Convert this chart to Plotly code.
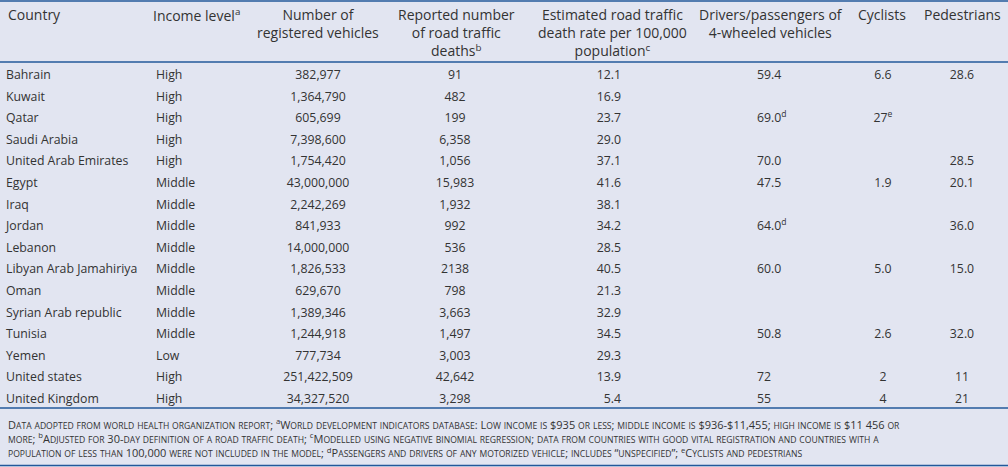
import re
import plotly.graph_objects as go

countries = ["Bahrain", "Kuwait", "Qatar", "Saudi Arabia", "United Arab Emirates", "Egypt", "Iraq",
             "Jordan", "Lebanon", "Libyan Arab Jamahiriya", "Oman", "Syrian Arab republic", "Tunisia",
             "Yemen", "United states", "United Kingdom"]
income = ["High", "High", "High", "High", "High", "Middle", "Middle", "Middle", "Middle", "Middle",
          "Middle", "Middle", "Middle", "Low", "High", "High"]
vehicles = ["382,977", "1,364,790", "605,699", "7,398,600", "1,754,420", "43,000,000", "2,242,269",
            "841,933", "14,000,000", "1,826,533", "629,670", "1,389,346", "1,244,918", "777,734",
            "251,422,509", "34,327,520"]
deaths = ["91", "482", "199", "6,358", "1,056", "15,983", "1,932", "992", "536", "2138", "798",
          "3,663", "1,497", "3,003", "42,642", "3,298"]
rate = ["12.1", "16.9", "23.7", "29.0", "37.1", "41.6", "38.1", "34.2", "28.5", "40.5", "21.3",
        "32.9", "34.5", "29.3", "13.9", "5.4"]
drivers = ["59.4", "", "69.0<sup>d</sup>", "", "70.0", "47.5", "", "64.0<sup>d</sup>", "", "60.0",
           "", "", "50.8", "", "72", "55"]
cyclists = ["6.6", "", "27<sup>e</sup>", "", "", "1.9", "", "", "", "5.0", "", "", "2.6", "", "2", "4"]
pedestrians = ["28.6", "", "", "", "28.5", "20.1", "", "36.0", "", "15.0", "", "", "32.0", "", "11", "21"]

headers = ["Country", "Income level<sup>a</sup>", "Number of<br>registered vehicles",
           "Reported number<br>of road traffic<br>deaths<sup>b</sup>",
           "Estimated road traffic<br>death rate per 100,000<br>population<sup>c</sup>",
           "Drivers/passengers of<br>4-wheeled vehicles", "Cyclists", "Pedestrians"]

footnote = ("Data adopted from world health organization report; <sup>a</sup>World development indicators database: "
            "Low income is $935 or less; middle income is $936-$11,455; high income is $11 456 or<br>"
            "more; <sup>b</sup>Adjusted for 30-day definition of a road traffic death; <sup>c</sup>Modelled using "
            "negative binomial regression; data from countries with good vital registration and countries with a<br>"
            "population of less than 100,000 were not included in the model; <sup>d</sup>Passengers and drivers of "
            "any motorized vehicle; includes \u201cunspecified\u201d; <sup>e</sup>Cyclists and pedestrians")

W, H = 1008, 467
BG = "#e2e5f1"
RULE = "#23589a"
TXT = "#333333"
FONT = "Open Sans"
body_size = 12.3
foot_size = 11
foot_small = 8.6


def small_caps(text, small):
    out = []
    in_sup = False
    for part in re.split(r"(<[^>]+>)", text):
        if part.startswith("<"):
            if part == "<sup>":
                in_sup = True
            elif part == "</sup>":
                in_sup = False
            out.append(part)
        elif in_sup:
            out.append(part)
        else:
            out.append(re.sub(r"[a-z]+",
                              lambda m: f'<span style="font-size:{small}px">{m.group(0).upper()}</span>',
                              part))
    return "".join(out)


columns = [
    (countries, 6, "middle right"),
    (income, 156, "middle right"),
    (vehicles, 318, "middle center"),
    (deaths, 455, "middle center"),
    (rate, 621, "middle left"),
    (drivers, 757, "middle right"),
    (cyclists, 883, "middle center"),
    (pedestrians, 962, "middle center"),
]
rows = list(range(len(countries)))

fig = go.Figure()
for vals, xpos, pos in columns:
    fig.add_trace(go.Scatter(
        x=[xpos] * len(vals), y=rows, mode="text", text=vals, textposition=pos,
        textfont=dict(family=FONT, size=body_size, color=TXT), hoverinfo="skip", showlegend=False))

# header
hdr_x = [6, 151, 318, 456, 612, 771, 882, 962]
hdr_anchor = ["left", "left", "center", "center", "center", "center", "center", "center"]
for h, xp, an in zip(headers, hdr_x, hdr_anchor):
    fig.add_annotation(x=xp, xref="x", y=1 - 3 / H, yref="paper", text=h, showarrow=False,
                       xanchor=an, yanchor="top", align=an,
                       font=dict(family=FONT, size=14, color=TXT))

fig.add_annotation(x=6, xref="x", y=1 - 414 / H, yref="paper", text=small_caps(footnote, foot_small),
                   showarrow=False, xanchor="left", yanchor="top", align="left",
                   font=dict(family=FONT, size=foot_size, color=TXT))

for py in [1, 62, 408, 465.5]:
    fig.add_shape(type="line", xref="paper", yref="paper", x0=0, x1=1, y0=1 - py / H, y1=1 - py / H,
                  line=dict(color=RULE, width=1.6))

first_px, last_px = 76, 400
row_px = (last_px - first_px) / 15.0
y_top = -first_px / row_px
y_bot = (H - first_px) / row_px
fig.update_layout(
    width=W, height=H, margin=dict(l=0, r=0, t=0, b=0),
    paper_bgcolor=BG, plot_bgcolor=BG,
    xaxis=dict(range=[0, W], visible=False, fixedrange=True),
    yaxis=dict(range=[y_bot, y_top], visible=False, fixedrange=True),
)
fig.write_html("out.html", config={"displayModeBar": False},
               post_script="document.body.style.margin='0';document.body.style.overflow='hidden';")
